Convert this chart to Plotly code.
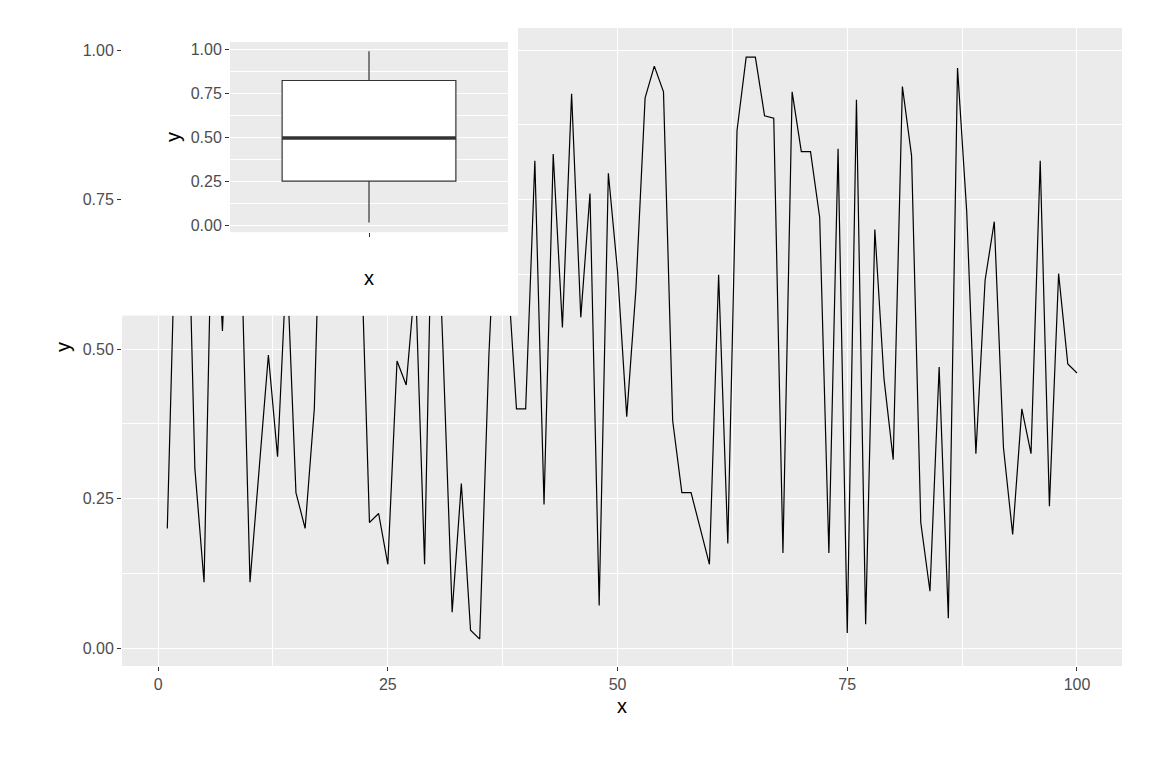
import numpy as np
import plotly.graph_objects as go

x_vals = list(range(1, 101))
y_vals = [0.20, 0.78, 0.92, 0.30, 0.11, 0.85, 0.53, 0.90, 0.70, 0.11,
          0.30, 0.49, 0.32, 0.65, 0.26, 0.20, 0.40, 0.95, 0.68, 0.85,
          0.98, 0.72, 0.21, 0.225, 0.14, 0.48, 0.44, 0.62, 0.14, 0.90,
          0.50, 0.06, 0.275, 0.03, 0.015, 0.49, 0.82, 0.64, 0.40, 0.40,
          0.815, 0.24, 0.826, 0.536, 0.927, 0.553, 0.76, 0.071, 0.794, 0.63,
          0.387, 0.60, 0.92, 0.973, 0.93, 0.38, 0.26, 0.26, 0.20, 0.14,
          0.624, 0.175, 0.865, 0.988, 0.988, 0.89, 0.886, 0.159, 0.93, 0.83,
          0.83, 0.72, 0.159, 0.835, 0.025, 0.917, 0.04, 0.70, 0.45, 0.315,
          0.939, 0.823, 0.21, 0.095, 0.47, 0.05, 0.97, 0.73, 0.325, 0.615,
          0.713, 0.335, 0.19, 0.40, 0.325, 0.815, 0.237, 0.626, 0.475, 0.46]

main_ticks = [0, 0.25, 0.5, 0.75, 1.0]
main_ticklabels = ["0.00", "0.25", "0.50", "0.75", "1.00"]
x_ticks = [0, 25, 50, 75, 100]

GRID = "#EBEBEB"
TXT = "#4D4D4D"
FONT = "Liberation Sans"

fig = go.Figure()
fig.add_trace(go.Scatter(x=x_vals, y=y_vals, mode="lines",
                         line=dict(color="black", width=1.2),
                         xaxis="x", yaxis="y", showlegend=False, hoverinfo="skip"))
# white cover behind inset
fig.add_trace(go.Scatter(x=[0, 1, 1, 0, 0], y=[0, 0, 1, 1, 0], mode="lines",
                         fill="toself", fillcolor="white", line=dict(width=0),
                         xaxis="x2", yaxis="y2", showlegend=False, hoverinfo="skip"))
fig.add_trace(go.Box(y=y_vals, x=[0] * len(y_vals), xaxis="x3", yaxis="y3",
                     width=0.75, fillcolor="white", line=dict(color="#333333", width=1.2),
                     boxpoints=False, quartilemethod="linear", showlegend=False,
                     whiskerwidth=0, hoverinfo="skip"))
med = float(np.median(y_vals))
fig.add_trace(go.Scatter(x=[-0.375, 0.375], y=[med, med], mode="lines",
                         line=dict(color="#333333", width=3.5),
                         xaxis="x3", yaxis="y3", showlegend=False, hoverinfo="skip"))

tickfont = dict(family=FONT, size=16, color=TXT)
titlefont = dict(family=FONT, size=20, color="black")

fig.update_layout(
    width=1152, height=768,
    margin=dict(l=114, r=38, t=20, b=110),
    paper_bgcolor="white", plot_bgcolor=GRID,
    xaxis=dict(domain=[0, 1], range=[-3.93, 104.9], tickvals=x_ticks,
               ticks="outside", ticklen=4, tickcolor="#333333", tickfont=tickfont,
               showgrid=True, gridcolor="white", gridwidth=1.3, zeroline=False,
               minor=dict(dtick=12.5, tick0=0, showgrid=True, gridcolor="white", gridwidth=0.6),
               title=dict(text="x", font=titlefont, standoff=6)),
    yaxis=dict(domain=[0, 1], range=[-0.030, 1.0368], tickvals=main_ticks,
               ticktext=main_ticklabels,
               ticks="outside", ticklen=4, tickcolor="#333333", tickfont=tickfont,
               showgrid=True, gridcolor="white", gridwidth=1.3, zeroline=False,
               minor=dict(dtick=0.125, tick0=0, showgrid=True, gridcolor="white", gridwidth=0.6),
               title=dict(text="y", font=titlefont, standoff=6)),
    xaxis2=dict(domain=[0, 0.396], range=[0, 1], visible=False, fixedrange=True),
    yaxis2=dict(domain=[0.549, 1.0], range=[0, 1], visible=False, fixedrange=True),
    xaxis3=dict(domain=[0.108, 0.386], range=[-0.6, 0.6], tickvals=[0], ticktext=[""],
                ticks="outside", ticklen=4, tickcolor="#333333", showgrid=False,
                zeroline=False, anchor="y3",
                title=dict(text="x", font=titlefont, standoff=32)),
    yaxis3=dict(domain=[0.680, 0.978], range=[-0.04, 1.04], tickvals=main_ticks,
                ticktext=main_ticklabels, anchor="x3",
                ticks="outside", ticklen=4, tickcolor="#333333", tickfont=tickfont,
                showgrid=True, gridcolor="white", gridwidth=1.3, zeroline=False,
                minor=dict(dtick=0.125, tick0=0, showgrid=True, gridcolor="white", gridwidth=0.6),
                title=dict(text="y", font=titlefont, standoff=4)),
)

fig.write_html("out.html")
